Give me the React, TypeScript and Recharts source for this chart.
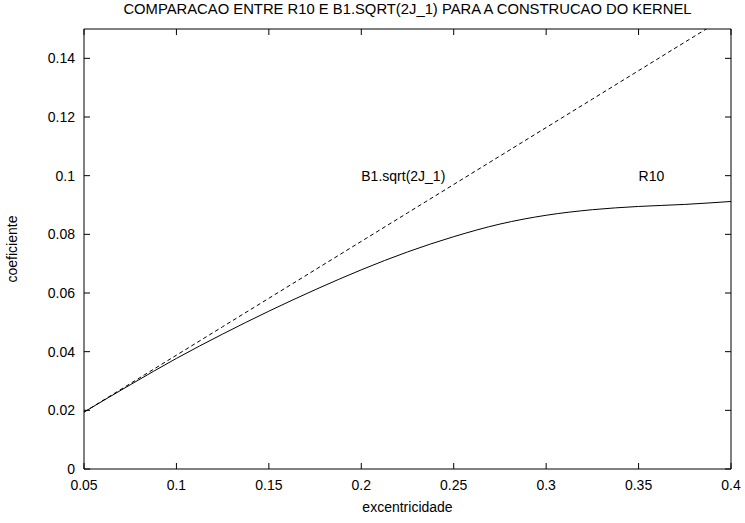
import { LineChart, Line, XAxis, YAxis, ReferenceDot } from 'recharts';

// valores (excentricidade x coeficiente)
const excentricidade = [0.05, 0.075, 0.1, 0.125, 0.15, 0.175, 0.2, 0.225, 0.25, 0.275, 0.3, 0.325, 0.35, 0.375, 0.4];
const r10 = [0.0194, 0.0287, 0.0377, 0.046, 0.0538, 0.0611, 0.0679, 0.074, 0.0792, 0.0835, 0.0865, 0.0884, 0.0895, 0.0902, 0.0912];
const b1Sqrt = [0.0194, 0.0291, 0.0388, 0.0485, 0.0582, 0.0679, 0.0776, 0.0873, 0.097, 0.1067, 0.1164, 0.1261, 0.1358, 0.1455, 0.1552];

const xTicks = [0.05, 0.1, 0.15, 0.2, 0.25, 0.3, 0.35, 0.4];
const xTickLabels = ['0.05', '0.1', '0.15', '0.2', '0.25', '0.3', '0.35', '0.4'];
const yTicks = [0, 0.02, 0.04, 0.06, 0.08, 0.1, 0.12, 0.14];
const yTickLabels = ['0', '0.02', '0.04', '0.06', '0.08', '0.1', '0.12', '0.14'];

const curveLabels = [
  { e: 0.2, c: 0.1, text: 'B1.sqrt(2J_1)' },
  { e: 0.35, c: 0.1, text: 'R10' },
];

const data = excentricidade.map((e, i) => ({ e, r10: r10[i], b1: b1Sqrt[i] }));

const FONT = '"Liberation Sans", Arial, Helvetica, sans-serif';
const TICK = 6;

function label(ticks: number[], labels: string[], v: number) {
  const i = ticks.findIndex((t) => Math.abs(t - v) < 1e-9);
  return i >= 0 ? labels[i] : String(v);
}

const BottomTick = (props: any) => {
  const { x, y, payload } = props;
  return (
    <g>
      <line x1={x} y1={y} x2={x} y2={y - TICK} stroke="#000" />
      <text x={x} y={y + 21} textAnchor="middle" fontSize={14} fontFamily={FONT} fill="#000">
        {label(xTicks, xTickLabels, payload.value)}
      </text>
    </g>
  );
};

const TopTick = (props: any) => {
  const { x, y } = props;
  return <line x1={x} y1={y} x2={x} y2={y + TICK} stroke="#000" />;
};

const LeftTick = (props: any) => {
  const { x, y, payload } = props;
  return (
    <g>
      <line x1={x} y1={y} x2={x + TICK} y2={y} stroke="#000" />
      <text x={x - 9} y={y + 5} textAnchor="end" fontSize={14} fontFamily={FONT} fill="#000">
        {label(yTicks, yTickLabels, payload.value)}
      </text>
    </g>
  );
};

const RightTick = (props: any) => {
  const { x, y } = props;
  return <line x1={x} y1={y} x2={x - TICK} y2={y} stroke="#000" />;
};

export default function App() {
  return (
    <div style={{ position: 'absolute', left: 0, top: 0, width: 745, height: 523, background: '#fff', fontFamily: FONT, color: '#000' }}>
      <LineChart width={745} height={523} data={data} margin={{ top: 28, right: 13, bottom: 53, left: 83 }}>
        <XAxis
          dataKey="e"
          type="number"
          domain={[0.05, 0.4]}
          ticks={xTicks}
          interval={0}
          height={1}
          tickSize={0}
          tickMargin={0}
          tick={BottomTick}
          axisLine={{ stroke: '#000' }}
        />
        <XAxis
          xAxisId="top"
          orientation="top"
          dataKey="e"
          type="number"
          domain={[0.05, 0.4]}
          ticks={xTicks}
          interval={0}
          height={1}
          tickSize={0}
          tickMargin={0}
          tick={TopTick}
          axisLine={{ stroke: '#000' }}
        />
        <YAxis
          type="number"
          domain={[0, 0.15]}
          allowDataOverflow
          ticks={yTicks}
          interval={0}
          width={1}
          tickSize={0}
          tickMargin={0}
          tick={LeftTick}
          axisLine={{ stroke: '#000' }}
        />
        <YAxis
          yAxisId="right"
          orientation="right"
          type="number"
          domain={[0, 0.15]}
          allowDataOverflow
          ticks={yTicks}
          interval={0}
          width={1}
          tickSize={0}
          tickMargin={0}
          tick={RightTick}
          axisLine={{ stroke: '#000' }}
        />
        <Line
          dataKey="r10"
          type="monotone"
          stroke="#000"
          strokeWidth={1}
          dot={false}
          isAnimationActive={false}
        />
        <Line
          dataKey="b1"
          type="linear"
          stroke="#000"
          strokeWidth={1}
          strokeDasharray="4 3"
          dot={false}
          isAnimationActive={false}
        />
        {curveLabels.map((l) => (
          <ReferenceDot
            key={l.text}
            x={l.e}
            y={l.c}
            r={0}
            fill="none"
            stroke="none"
            label={{ value: l.text, position: 'right', offset: 0, fontSize: 14, fontFamily: FONT, fill: '#000' }}
          />
        ))}
      </LineChart>
      <div style={{ position: 'absolute', left: 84, top: 2, width: 647, textAlign: 'center', fontSize: 14.8, lineHeight: '15px', whiteSpace: 'nowrap' }}>
        COMPARACAO ENTRE R10 E B1.SQRT(2J_1) PARA A CONSTRUCAO DO KERNEL
      </div>
      <div style={{ position: 'absolute', left: 84, top: 500, width: 647, textAlign: 'center', fontSize: 14, lineHeight: '14px' }}>
        excentricidade
      </div>
      <div style={{ position: 'absolute', left: 12, top: 249, transform: 'translate(-50%, -50%) rotate(-90deg)', fontSize: 14, lineHeight: '14px', whiteSpace: 'nowrap' }}>
        coeficiente
      </div>
    </div>
  );
}
